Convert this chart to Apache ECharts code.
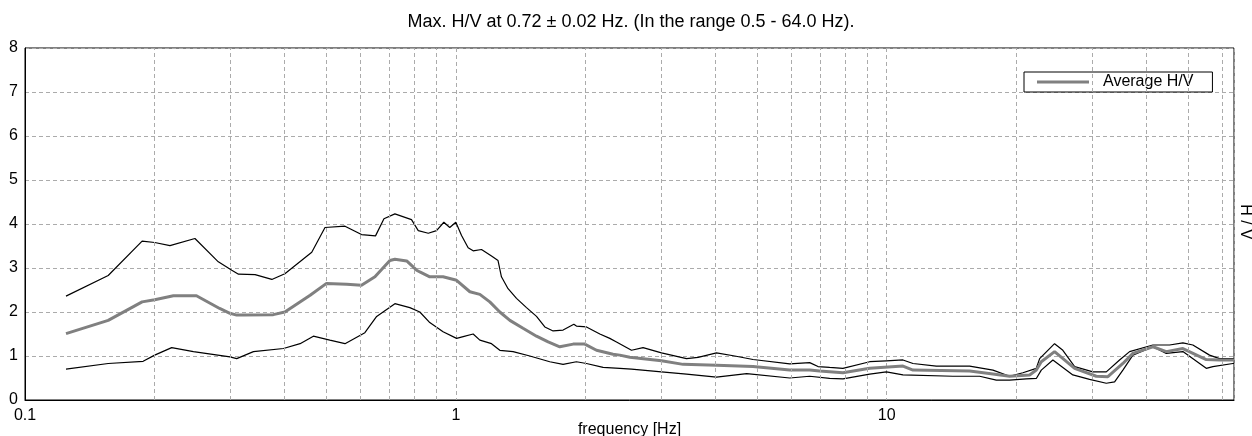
<!DOCTYPE html>
<html>
<head>
<meta charset="utf-8">
<script src="https://cdn.jsdelivr.net/npm/echarts@6/dist/echarts.min.js"></script>
<style>html,body{margin:0;padding:0;background:#fff;}#c{width:1252px;height:436px;}</style>
</head>
<body>
<div id="c"></div>
<script>
const titleText = 'Max. H/V at 0.72 \u00b1 0.02 Hz. (In the range 0.5 - 64.0 Hz).';
const xName = 'frequency [Hz]';
const yName = 'H / V';
const legendName = 'Average H/V';
const gridFreqs = [0.2,0.3,0.4,0.5,0.6,0.7,0.8,0.9,2,3,4,5,6,7,8,9,20,30,40,50,60];

const freqUpper = [0.1245,0.156,0.187,0.200,0.217,0.248,0.281,0.302,0.313,0.342,0.374,0.401,0.463,0.497,0.553,0.604,0.651,0.681,0.722,0.789,0.818,0.863,0.902,0.938,0.968,1.000,1.031,1.068,1.097,1.147,1.210,1.253,1.276,1.322,1.383,1.459,1.539,1.609,1.682,1.774,1.879,1.905,2.010,2.159,2.277,2.360,2.557,2.720,3.001,3.431,3.650,4.027,4.440,4.896,5.956,6.627,6.928,7.373,7.916,9.133,9.984,10.91,11.51,13.04,15.58,17.65,19.29,20.71,22.25,22.65,24.53,25.64,27.31,30.11,32.34,34.72,36.63,41.49,45.36,48.70,51.37,56.15,59.25,64];
const valUpper = [2.36,2.83,3.61,3.58,3.51,3.67,3.14,2.95,2.86,2.85,2.74,2.87,3.36,3.92,3.95,3.76,3.73,4.12,4.23,4.10,3.85,3.79,3.85,4.04,3.92,4.04,3.74,3.46,3.39,3.42,3.27,3.17,2.80,2.53,2.31,2.10,1.90,1.66,1.57,1.59,1.72,1.68,1.66,1.50,1.40,1.32,1.13,1.19,1.07,0.94,0.97,1.07,1.00,0.92,0.82,0.85,0.76,0.74,0.72,0.87,0.89,0.91,0.83,0.77,0.77,0.68,0.54,0.62,0.72,0.94,1.28,1.13,0.76,0.64,0.64,0.91,1.10,1.25,1.25,1.30,1.25,1.02,0.94,0.94];

const freqAvg = [0.1245,0.156,0.187,0.200,0.221,0.250,0.283,0.299,0.310,0.321,0.377,0.401,0.459,0.501,0.558,0.604,0.649,0.703,0.722,0.769,0.811,0.825,0.870,0.934,1.004,1.078,1.137,1.199,1.265,1.335,1.432,1.539,1.638,1.743,1.872,1.992,2.121,2.317,2.402,2.534,3.001,3.370,4.027,4.896,5.956,6.627,6.990,7.916,9.133,10.91,11.51,15.58,17.65,19.29,21.47,22.25,22.85,24.53,27.31,30.66,32.62,35.34,37.28,41.49,44.56,48.70,55.18,59.25,64];
const valAvg = [1.51,1.81,2.23,2.28,2.37,2.37,2.08,1.97,1.93,1.93,1.94,2.00,2.38,2.65,2.63,2.61,2.80,3.17,3.20,3.16,2.95,2.91,2.80,2.80,2.72,2.46,2.40,2.23,2.00,1.81,1.63,1.45,1.32,1.21,1.27,1.27,1.13,1.04,1.02,0.97,0.89,0.81,0.79,0.76,0.68,0.68,0.66,0.62,0.72,0.77,0.68,0.66,0.59,0.54,0.57,0.68,0.87,1.10,0.72,0.54,0.53,0.83,1.06,1.21,1.10,1.17,0.92,0.91,0.91];

const freqLower = [0.1245,0.156,0.188,0.200,0.219,0.246,0.299,0.310,0.339,0.398,0.435,0.467,0.510,0.553,0.615,0.655,0.722,0.782,0.825,0.870,0.934,1.004,1.040,1.097,1.137,1.210,1.265,1.358,1.485,1.652,1.774,1.905,2.010,2.197,2.402,2.557,3.001,3.431,4.027,4.733,5.956,6.627,7.373,7.916,9.133,9.984,10.91,14.25,16.44,17.97,19.29,21.09,22.25,22.85,24.31,27.05,29.58,32.34,33.81,35.34,37.28,41.49,44.56,48.70,55.18,57.16,63.62,64];
const valLower = [0.70,0.83,0.88,1.02,1.19,1.10,0.98,0.94,1.10,1.17,1.28,1.45,1.36,1.28,1.53,1.90,2.19,2.10,2.00,1.76,1.55,1.40,1.44,1.50,1.36,1.28,1.13,1.10,1.00,0.87,0.81,0.87,0.83,0.74,0.72,0.70,0.64,0.59,0.52,0.60,0.50,0.54,0.49,0.48,0.59,0.64,0.57,0.54,0.54,0.45,0.45,0.48,0.49,0.68,0.91,0.57,0.47,0.38,0.41,0.68,1.02,1.21,1.06,1.10,0.72,0.76,0.83,0.83];

const zip = (xs, ys) => xs.map((x, i) => [x, ys[i]]);
const FONT = '"Liberation Sans", Arial, sans-serif';
const GRIDC = '#ababab';

const chart = echarts.init(document.getElementById('c'));
chart.setOption({
  animation: false,
  backgroundColor: '#fff',
  textStyle: { fontFamily: FONT },
  grid: { left: 25, top: 48, width: 1209, height: 352, show: true, borderColor: '#000', borderWidth: 1, backgroundColor: 'transparent', containLabel: false, outerBoundsMode: 'none' },
  legend: {
    data: [{ name: legendName, icon: 'rect' }], left: 1024, top: 72, selectedMode: false,
    backgroundColor: '#fff', borderColor: '#000', borderWidth: 1, borderRadius: 0,
    padding: [2, 19, 2, 13], itemWidth: 52, itemHeight: 3,
    textStyle: { fontSize: 16, color: '#000', fontFamily: FONT, padding: [0, 0, 0, 9] }
  },
  xAxis: {
    type: 'log', logBase: 10, min: 0.1, max: 64,
    name: xName, nameLocation: 'middle', nameGap: 22, nameMoveOverlap: false,
    nameTextStyle: { fontSize: 16, color: '#000', fontFamily: FONT, verticalAlign: 'top' },
    axisLine: { show: true, lineStyle: { color: '#000', width: 1 } },
    axisTick: { show: false },
    axisLabel: { color: '#000', fontSize: 16, fontFamily: FONT, margin: 8, showMaxLabel: false },
    splitLine: { show: true, lineStyle: { color: GRIDC, type: [4, 3], width: 1 } }
  },
  yAxis: {
    type: 'value', min: 0, max: 8, interval: 1,
    axisLine: { show: true, lineStyle: { color: '#000', width: 1 } },
    axisTick: { show: false },
    axisLabel: { color: '#000', fontSize: 16, fontFamily: FONT, margin: 7 },
    splitLine: { show: true, lineStyle: { color: GRIDC, type: [4, 3], width: 1 } }
  },
  graphic: [
    { type: 'text', x: 631, y: 22, z: 10, style: { text: titleText, fill: '#000', font: '18px ' + FONT, textAlign: 'center', textVerticalAlign: 'middle' } },
    { type: 'text', x: 1245, y: 222, rotation: -Math.PI / 2, z: 10, style: { text: yName, fill: '#000', font: '16px ' + FONT, textAlign: 'center', textVerticalAlign: 'middle' } }
  ],
  series: [
    {
      name: 'grid', type: 'line', data: [], z: 1, silent: true,
      markLine: {
        silent: true, symbol: 'none', label: { show: false },
        lineStyle: { color: GRIDC, type: [4, 3], width: 1 },
        data: gridFreqs.map(f => ({ xAxis: f }))
      }
    },
    { name: 'Upper', type: 'line', data: zip(freqUpper, valUpper), symbol: 'none', z: 3, lineStyle: { color: '#000', width: 1.2 }, itemStyle: { color: '#000' } },
    { name: 'Lower', type: 'line', data: zip(freqLower, valLower), symbol: 'none', z: 3, lineStyle: { color: '#000', width: 1.2 }, itemStyle: { color: '#000' } },
    { name: legendName, type: 'line', data: zip(freqAvg, valAvg), symbol: 'none', z: 4, lineStyle: { color: '#808080', width: 3 }, itemStyle: { color: '#808080' } }
  ]
});
</script>
</body>
</html>
